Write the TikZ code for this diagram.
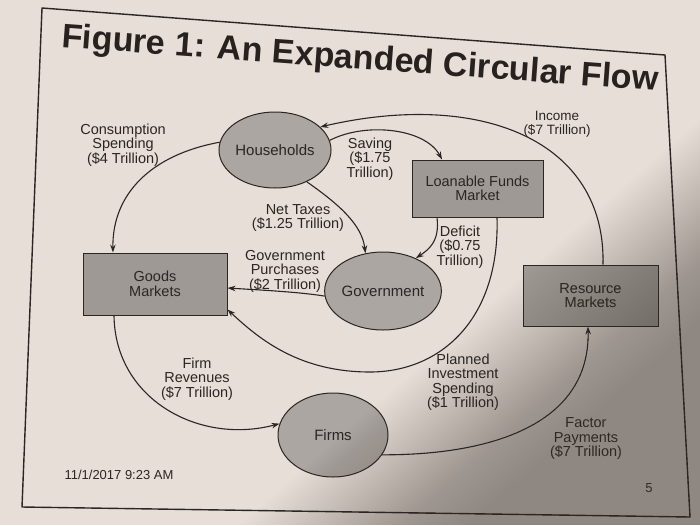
\documentclass[tikz,border=0pt]{standalone}
\usepackage{fontspec}
\setmainfont{Liberation Sans}
\usetikzlibrary{shapes.geometric,arrows.meta,calc}
\definecolor{paper}{HTML}{E6DED7}
\definecolor{ink}{HTML}{2B2623}
\definecolor{ovalc}{HTML}{ABA6A2}
\definecolor{boxc}{HTML}{9E9995}
\definecolor{shadowc}{HTML}{4A423C}
\begin{document}
\begin{tikzpicture}[x=1pt,y=-1pt,
  lbl/.style={font=\fontsize{14.5}{14.5}\selectfont, text=ink, align=center, inner sep=0pt},
  oval/.style={ellipse, draw=ink, line width=1pt, fill=ovalc, inner sep=0pt, font=\fontsize{15}{15}\selectfont, text=ink},
  mkt/.style={rectangle, draw=ink, line width=1pt, fill=boxc, inner sep=0pt, align=center, font=\fontsize{14.5}{14.5}\selectfont, text=ink},
  flow/.style={draw=ink, line width=1.1pt, -{Stealth[length=8pt,width=5.5pt]}},
  small/.style={font=\fontsize{13}{15}\selectfont, text=ink, inner sep=0pt}
]
\useasboundingbox (0,0) rectangle (700,525);
\fill[paper] (0,0) rectangle (700,525);

% frame
\draw[ink, line width=1.4pt, line join=round] (42,8) -- (665,55) -- (690,517) -- (22,507) -- cycle;

% title
\node[anchor=base west, rotate=-4.2, inner sep=0pt, text=ink!90!black,
      font=\fontsize{34}{38}\selectfont\bfseries] (title) at (61,47) {Figure 1: An Expanded Circular Flow};

% nodes
\node[oval, minimum width=105pt, minimum height=76pt] (hh) at (275,150) {Households};
\node[oval, minimum width=105pt, minimum height=78pt] (gov) at (383,291) {Government};
\node[oval, minimum width=110pt, minimum height=84pt] (firms) at (333,435) {Firms};
\node[mkt, minimum width=144pt, minimum height=62pt] (goods) at (155,284) {Goods\\Markets};
\node[mkt, minimum width=131pt, minimum height=57pt] (lfm) at (477.5,188.5) {Loanable Funds\\Market};
\node[mkt, minimum width=135pt, minimum height=61pt] (res) at (590.5,295.5) {Resource\\Markets};

% connectors
\draw[flow] ($(res.north)+(12.5,0)$) .. controls (606,140) and (480,90) .. (hh.27);
\draw[flow] (hh.10) .. controls (365,122) and (425,128) .. ($(lfm.north)+(-35.5,0)$);
\draw[flow] (hh.172) .. controls (150,155) and (112,195) .. ($(goods.north)+(-42,0)$);
\draw[flow] (hh.-45) .. controls (340,205) and (362,225) .. (gov.115);
\draw[flow] ($(lfm.south)+(-40.5,0)$) .. controls (440,242) and (428,250) .. (gov.45);
\draw[flow] (gov.185) .. controls (300,292) and (260,290) .. ($(goods.east)+(0,4)$);
\draw[flow] ($(lfm.south)+(19.5,0)$) .. controls (500,320) and (440,372) .. (370,372)
            .. controls (300,372) and (260,340) .. ($(goods.south east)+(0,-6)$);
\draw[flow] ($(goods.south)+(-41,0)$) .. controls (115,400) and (200,445) .. (firms.168);
\draw[flow] (firms.-22) .. controls (500,455) and (590,420) .. ($(res.south)+(-2.5,0)$);

% labels
\node[lbl, font=\fontsize{13.5}{13.5}\selectfont] (lInc) at (557,124) {Income\\(\$7 Trillion)};
\node[lbl] (lSav) at (370,159) {Saving\\(\$1.75\\Trillion)};
\node[lbl] (lCon) at (123,145) {Consumption\\Spending\\(\$4 Trillion)};
\node[lbl] (lTax) at (298,218) {Net Taxes\\(\$1.25 Trillion)};
\node[lbl] (lDef) at (460,247) {Deficit\\(\$0.75\\Trillion)};
\node[lbl] (lGov) at (285,271) {Government\\Purchases\\(\$2 Trillion)};
\node[lbl] (lInv) at (463,382) {Planned\\Investment\\Spending\\(\$1 Trillion)};
\node[lbl] (lRev) at (197,379) {Firm\\Revenues\\(\$7 Trillion)};
\node[lbl] (lFac) at (586,439) {Factor\\Payments\\(\$7 Trillion)};

\node[small] (date) at (119,475) {11/1/2017 9:23 AM};
\node[small] (pg) at (649,488) {5};

% photographic shadow (soft edge built from thin layers)
\foreach \d in {0,3,...,150} {
  \fill[shadowc, opacity=0.012] ({240+1.52*\d},525) -- (700,{120+1.33*\d}) -- (700,525) -- cycle;
}
\end{tikzpicture}
\end{document}
